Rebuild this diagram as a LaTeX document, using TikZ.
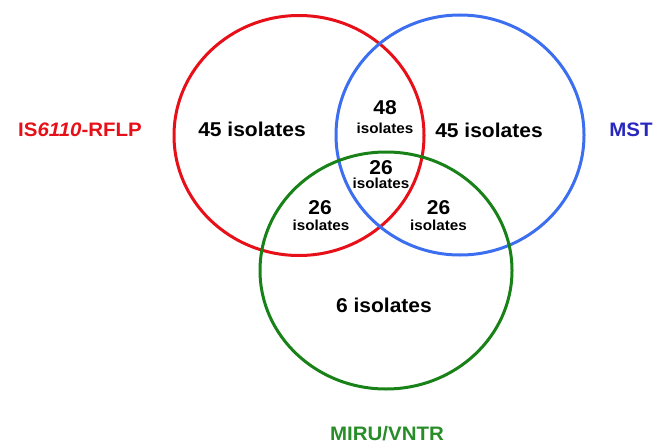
\documentclass[tikz,border=0pt]{standalone}
\usepackage{fontspec}
\setmainfont{Liberation Sans}[FakeStretch=1.05]
\usetikzlibrary{shapes.geometric}
\definecolor{vred}{RGB}{232,16,24}
\definecolor{vblue}{RGB}{60,110,240}
\definecolor{vgreen}{RGB}{24,130,24}
\definecolor{lblue}{RGB}{40,40,190}
\definecolor{lgreen}{RGB}{40,140,40}
\tikzset{
  setring/.style={ellipse, draw, line width=3pt, inner sep=0pt, fill=none},
  bigtxt/.style={font=\fontsize{20}{22}\selectfont\bfseries, inner sep=0pt},
  smalltxt/.style={font=\fontsize{14.5}{16}\selectfont\bfseries, inner sep=0pt},
  lbl/.style={font=\fontsize{19.5}{22}\selectfont\bfseries, inner sep=0pt}
}
\begin{document}
\begin{tikzpicture}[x=1pt,y=-1pt]
\useasboundingbox (0,0) rectangle (666,444);
\node[setring, draw=vred, minimum width=250pt, minimum height=240pt] (red) at (299,135.5) {};
\node[setring, draw=vblue, minimum width=248pt, minimum height=240pt] (blue) at (460,135) {};
\node[setring, draw=vgreen, minimum width=252pt, minimum height=237pt] (green) at (386,270.5) {};

\node[bigtxt] (a) at (252,129.5) {45 isolates};
\node[bigtxt] (b) at (489,130) {45 isolates};
\node[bigtxt] (ab) at (385,108) {48};
\node[smalltxt] (abi) at (385,128) {isolates};
\node[bigtxt] (abc) at (381,167.5) {26};
\node[smalltxt] (abci) at (381,183) {isolates};
\node[bigtxt] (ac) at (320,208) {26};
\node[smalltxt] (aci) at (321,225) {isolates};
\node[bigtxt] (bc) at (438.5,208) {26};
\node[smalltxt] (bci) at (438.5,225) {isolates};
\node[bigtxt] (c) at (384,305) {6 isolates};

\node[lbl, text=vred] (la) at (80,130) {IS\textit{6110}-RFLP};
\node[lbl, text=lblue] (lb) at (631,130) {MST};
\node[lbl, text=lgreen] (lc) at (387,434) {MIRU/VNTR};
\end{tikzpicture}
\end{document}
